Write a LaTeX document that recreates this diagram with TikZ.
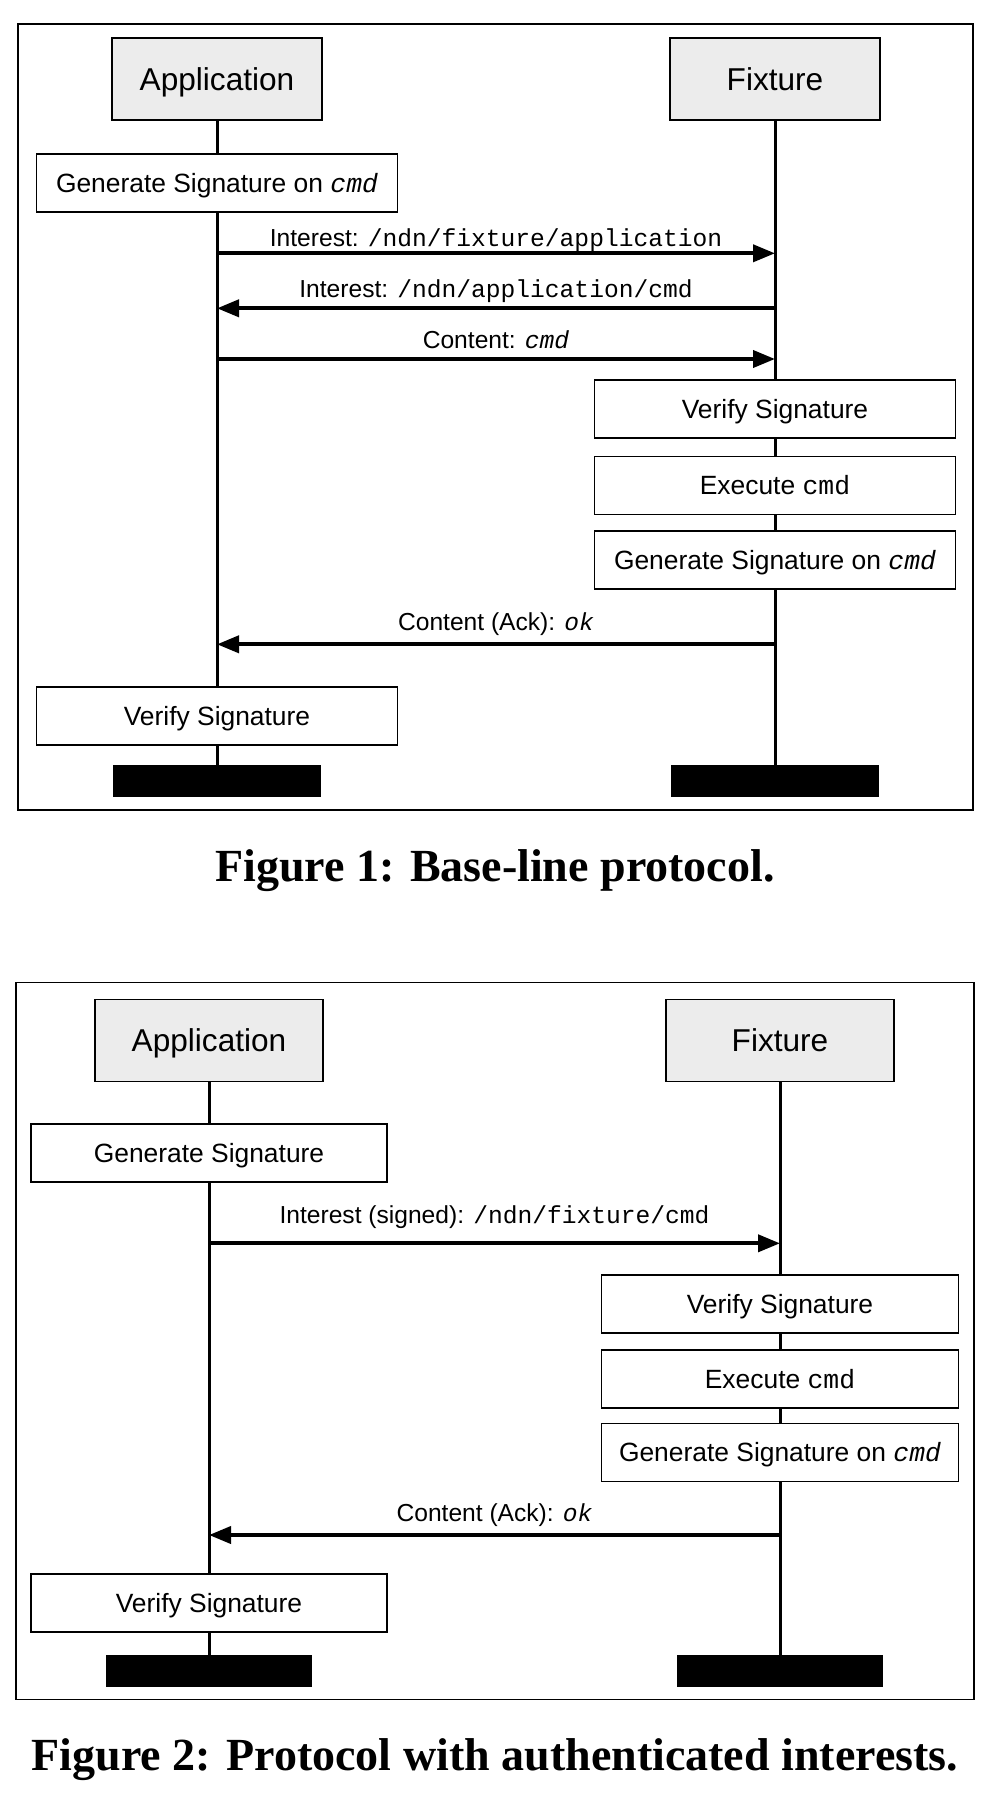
\documentclass[tikz,border=0pt]{standalone}
\usepackage{fontspec}
\setmainfont{Liberation Serif}
\setsansfont{Liberation Sans}
\setmonofont{Liberation Mono}
\usetikzlibrary{arrows.meta,positioning}

\newcommand\cmdit{\textit{\ttfamily cmd}}
\newcommand\okit{\textit{\ttfamily ok}}

\tikzset{
  hdrbox/.style={draw, line width=0.8pt, fill=gray!15, minimum width=105pt, minimum height=41pt, inner sep=0pt, text height=11.3pt, text depth=0pt, font=\sffamily\fontsize{15.8}{19}\selectfont},
  actbox/.style={draw, line width=0.8pt, fill=white, minimum width=180.5pt, minimum height=29pt, inner sep=0pt, text height=9.45pt, text depth=0pt, font=\sffamily\fontsize{13.2}{16}\selectfont},
  endbar/.style={fill=black, minimum width=104pt, minimum height=16pt, inner sep=0pt},
  lifeline/.style={line width=1.5pt},
  msg/.style={line width=1.9pt, -{Triangle[length=11pt,width=8.5pt]}},
  lbl/.style={midway, anchor=base, inner sep=0pt, font=\sffamily\fontsize{12.3}{15}\selectfont},
  figframe/.style={draw, line width=0.8pt},
  figcap/.style={inner sep=0pt, font=\bfseries\fontsize{23}{28}\selectfont}
}

\begin{document}
\begin{tikzpicture}[x=0.5pt, y=-0.5pt]
                \useasboundingbox (0,0) rectangle (988,1798);

                % Figure 1: frame
                \draw[figframe] (18,24.3) rectangle (973,810);

                % Figure 1: application side
                \node[hdrbox] (appA) at (217,79) {Application};
                \node[actbox] (gsA) at (217,183) {Generate Signature on \cmdit};
                \node[actbox] (vsA) at (217,716) {Verify Signature};
                \node[endbar] (barA) at (217,781) {};
                \draw[lifeline] (appA.south) -- (gsA.north);
                \draw[lifeline] (gsA.south) -- (vsA.north);
                \draw[lifeline] (vsA.south) -- (barA.north);

                % Figure 1: fixture side
                \node[hdrbox] (fixA) at (775,79) {Fixture};
                \node[actbox] (vfA) at (775,409) {Verify Signature};
                \node[actbox] (exA) at (775,485.5) {Execute \texttt{cmd}};
                \node[actbox] (gfA) at (775,560) {Generate Signature on \cmdit};
                \node[endbar] (barF) at (775,781) {};
                \draw[lifeline] (fixA.south) -- (vfA.north);
                \draw[lifeline] (vfA.south) -- (exA.north);
                \draw[lifeline] (exA.south) -- (gfA.north);
                \draw[lifeline] (gfA.south) -- (barF.north);

                % Figure 1: messages
                \draw[msg] (appA |- 0,253.3) -- (fixA |- 0,253.3) node[lbl, yshift=3.5pt] {Interest: \texttt{/ndn/fixture/application}};
                \draw[msg] (fixA |- 0,308.3) -- (appA |- 0,308.3) node[lbl, yshift=5.5pt] {Interest: \texttt{/ndn/application/cmd}};
                \draw[msg] (appA |- 0,359) -- (fixA |- 0,359) node[lbl, yshift=5.5pt] {Content: \cmdit};
                \draw[msg] (fixA |- 0,644.3) -- (appA |- 0,644.3) node[lbl, yshift=7pt] {Content (Ack): \okit};

                \node[figcap] (capA) at (495,871) {Figure 1: Base-line protocol.};

                % Figure 2: frame
                \draw[figframe] (16,982.3) rectangle (974,1699.3);

                % Figure 2: application side
                \node[hdrbox, minimum width=114pt] (appB) at (209,1040.3) {Application};
                \node[actbox, minimum width=178pt] (gsB) at (209,1153) {Generate Signature};
                \node[actbox, minimum width=178pt] (vsB) at (209,1603) {Verify Signature};
                \node[endbar, minimum width=103pt] (barB) at (209,1671.3) {};
                \draw[lifeline] (appB.south) -- (gsB.north);
                \draw[lifeline] (gsB.south) -- (vsB.north);
                \draw[lifeline] (vsB.south) -- (barB.north);

                % Figure 2: fixture side
                \node[hdrbox, minimum width=114pt] (fixB) at (780,1040.3) {Fixture};
                \node[actbox, minimum width=178.5pt] (vfB) at (780,1304) {Verify Signature};
                \node[actbox, minimum width=178.5pt] (exB) at (780,1378.7) {Execute \texttt{cmd}};
                \node[actbox, minimum width=178.5pt] (gfB) at (780,1452.5) {Generate Signature on \cmdit};
                \node[endbar, minimum width=103pt] (barG) at (780,1671.3) {};
                \draw[lifeline] (fixB.south) -- (vfB.north);
                \draw[lifeline] (vfB.south) -- (exB.north);
                \draw[lifeline] (exB.south) -- (gfB.north);
                \draw[lifeline] (gfB.south) -- (barG.north);

                % Figure 2: messages
                \draw[msg] (appB |- 0,1243.3) -- (fixB |- 0,1243.3) node[lbl, yshift=10pt] {Interest (signed): \texttt{/ndn/fixture/cmd}};
                \draw[msg] (fixB |- 0,1535) -- (appB |- 0,1535) node[lbl, yshift=7pt] {Content (Ack): \okit};

                \node[figcap] (capB) at (495,1760) {Figure 2: Protocol with authenticated interests.};
\end{tikzpicture}
\end{document}
